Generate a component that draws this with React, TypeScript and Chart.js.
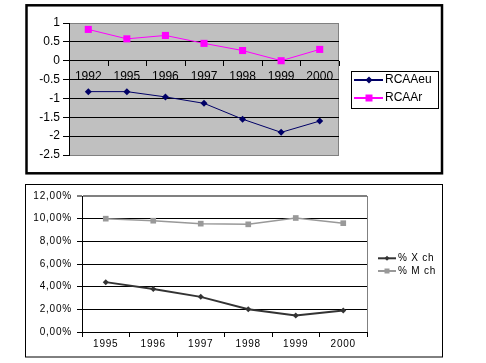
import { useEffect, useRef } from 'react';
import { Chart, registerables } from 'chart.js';

Chart.register(...registerables);

const FONT = 'Liberation Sans, Arial, sans-serif';

// Top chart data
const topYears = ['1992', '1995', '1996', '1997', '1998', '1999', '2000'];
const rcaaEu = [-0.82, -0.82, -0.96, -1.13, -1.55, -1.9, -1.6];
const rcaaR = [0.83, 0.58, 0.67, 0.46, 0.27, 0.0, 0.3];
const topTicks = [1, 0.5, 0, -0.5, -1, -1.5, -2, -2.5];

// Bottom chart data (percent)
const bottomYears = ['1995', '1996', '1997', '1998', '1999', '2000'];
const xCh = [4.4, 3.8, 3.1, 2.0, 1.45, 1.9];
const mCh = [10.0, 9.82, 9.56, 9.5, 10.06, 9.6];

const topPlugin = {
  id: 'topDeco',
  beforeDraw(chart: any) {
    const { ctx, chartArea: a } = chart;
    ctx.save();
    ctx.fillStyle = '#ffffff';
    ctx.fillRect(0, 0, chart.width, chart.height);
    ctx.fillStyle = '#c0c0c0';
    ctx.fillRect(a.left, a.top, a.right - a.left, a.bottom - a.top);
    ctx.strokeStyle = '#808080';
    ctx.lineWidth = 1;
    ctx.strokeRect(a.left + 0.5, a.top + 0.5, a.right - a.left - 1, a.bottom - a.top);
    ctx.restore();
  },
  beforeDatasetsDraw(chart: any) {
    const { ctx } = chart;
    const xs = chart.scales.x;
    const ys = chart.scales.y;
    const y0 = ys.getPixelForValue(0);
    const half = (xs.getPixelForValue(1) - xs.getPixelForValue(0)) / 2;
    ctx.save();
    ctx.strokeStyle = '#000';
    ctx.lineWidth = 1;
    ctx.beginPath();
    for (let i = 0; i < topYears.length; i++) {
      const bx = Math.round(xs.getPixelForValue(i) + half) + 0.5;
      ctx.moveTo(bx, Math.round(y0));
      ctx.lineTo(bx, Math.round(y0) + 5);
    }
    ctx.stroke();
    ctx.fillStyle = '#000';
    ctx.font = `12px ${FONT}`;
    ctx.textAlign = 'center';
    ctx.textBaseline = 'middle';
    topYears.forEach((lab, i) => {
      ctx.fillText(lab, xs.getPixelForValue(i), y0 + 16);
    });
    ctx.restore();
  },
  afterDraw(chart: any) {
    const { ctx } = chart;
    ctx.save();
    // outer frame
    ctx.strokeStyle = '#000';
    ctx.lineWidth = 2.5;
    ctx.strokeRect(26.5, 5.3, 415.5, 168);
    // legend
    ctx.fillStyle = '#fff';
    ctx.fillRect(351, 71, 87, 37);
    ctx.lineWidth = 1;
    ctx.strokeRect(351.5, 71.5, 87, 37);
    const items = chart.data.datasets;
    const ys = [80, 98];
    items.forEach((ds: any, i: number) => {
      const y = ys[i];
      ctx.strokeStyle = ds.borderColor;
      ctx.lineWidth = 2;
      ctx.beginPath();
      ctx.moveTo(354, y);
      ctx.lineTo(383, y);
      ctx.stroke();
      ctx.fillStyle = ds.backgroundColor;
      ctx.beginPath();
      if (ds.pointStyle === 'rect') {
        ctx.rect(369 - 3.5, y - 3.5, 7, 7);
      } else {
        ctx.moveTo(369 - 3.5, y);
        ctx.lineTo(369, y - 3.5);
        ctx.lineTo(369 + 3.5, y);
        ctx.lineTo(369, y + 3.5);
        ctx.closePath();
      }
      ctx.fill();
      ctx.fillStyle = '#000';
      ctx.font = `12px ${FONT}`;
      ctx.textAlign = 'left';
      ctx.textBaseline = 'middle';
      ctx.fillText(ds.label, 385, y);
    });
    ctx.restore();
  },
};

const bottomPlugin = {
  id: 'bottomDeco',
  beforeDraw(chart: any) {
    const { ctx } = chart;
    ctx.fillStyle = '#ffffff';
    ctx.fillRect(0, 0, chart.width, chart.height);
    (ctx as any).letterSpacing = '0.8px';
  },
  afterDraw(chart: any) {
    const { ctx, chartArea: a } = chart;
    ctx.save();
    ctx.strokeStyle = '#808080';
    ctx.lineWidth = 1;
    ctx.beginPath();
    ctx.moveTo(Math.round(a.right) + 0.5, a.top);
    ctx.lineTo(Math.round(a.right) + 0.5, a.bottom);
    ctx.stroke();
    // outer frame
    ctx.strokeStyle = '#000';
    ctx.strokeRect(25.5, 4.5, 417, 172.5);
    // legend
    const ys = [78.3, 91];
    chart.data.datasets.forEach((ds: any, i: number) => {
      const y = ys[i];
      ctx.strokeStyle = ds.borderColor;
      ctx.lineWidth = 2;
      ctx.beginPath();
      ctx.moveTo(378, y);
      ctx.lineTo(396, y);
      ctx.stroke();
      ctx.fillStyle = ds.backgroundColor;
      ctx.beginPath();
      if (ds.pointStyle === 'rect') {
        ctx.rect(387 - 2.5, y - 2.5, 5, 5);
      } else {
        ctx.moveTo(387 - 2.5, y);
        ctx.lineTo(387, y - 2.5);
        ctx.lineTo(387 + 2.5, y);
        ctx.lineTo(387, y + 2.5);
        ctx.closePath();
      }
      ctx.fill();
      ctx.fillStyle = '#000';
      ctx.font = `10px ${FONT}`;
      ctx.textAlign = 'left';
      ctx.textBaseline = 'middle';
      (ctx as any).letterSpacing = '0.8px';
      ctx.fillText(ds.label, 398, y);
    });
    ctx.restore();
  },
};

export default function App() {
  const topRef = useRef<HTMLCanvasElement>(null);
  const botRef = useRef<HTMLCanvasElement>(null);

  useEffect(() => {
    const top = new Chart(topRef.current as HTMLCanvasElement, {
      type: 'line',
      data: {
        labels: topYears,
        datasets: [
          {
            label: 'RCAAeu',
            data: rcaaEu,
            borderColor: '#000066',
            backgroundColor: '#000066',
            borderWidth: 1,
            pointStyle: 'rectRot',
            pointRadius: 3.5,
            pointBorderWidth: 0,
            tension: 0,
          },
          {
            label: 'RCAAr',
            data: rcaaR,
            borderColor: '#ff00ff',
            backgroundColor: '#ff00ff',
            borderWidth: 1,
            pointStyle: 'rect',
            pointRadius: 5,
            pointBorderWidth: 0,
            tension: 0,
          },
        ],
      },
      options: {
        responsive: false,
        animation: false,
        layout: { padding: { left: 0, top: 23, right: 147, bottom: 25 } },
        plugins: { legend: { display: false }, tooltip: { enabled: false } },
        scales: {
          x: { display: false, offset: true },
          y: {
            min: -2.5,
            max: 1,
            afterBuildTicks: (s: any) => {
              s.ticks = topTicks.map((v) => ({ value: v }));
            },
            afterFit: (s: any) => {
              s.width = 69;
            },
            ticks: {
              callback: (v: any) => String(v),
              color: '#000',
              font: { family: FONT, size: 12 },
              padding: 3,
            },
            grid: {
              color: (c: any) =>
                c.tick && (c.tick.value === 1 || c.tick.value === -2.5) ? 'rgba(0,0,0,0)' : '#000',
              tickColor: '#000',
              tickLength: 6,
              lineWidth: 1,
            },
            border: { color: '#000', width: 1 },
          },
        },
      } as any,
      plugins: [topPlugin],
    });

    const bot = new Chart(botRef.current as HTMLCanvasElement, {
      type: 'line',
      data: {
        labels: bottomYears,
        datasets: [
          {
            label: '% X ch',
            data: xCh,
            borderColor: '#333333',
            backgroundColor: '#333333',
            borderWidth: 2,
            pointStyle: 'rectRot',
            pointRadius: 3,
            pointBorderWidth: 0,
            tension: 0,
          },
          {
            label: '% M ch',
            data: mCh,
            borderColor: '#999999',
            backgroundColor: '#999999',
            borderWidth: 1.5,
            pointStyle: 'rect',
            pointRadius: 4,
            pointBorderWidth: 0,
            tension: 0,
          },
        ],
      },
      options: {
        responsive: false,
        animation: false,
        layout: { padding: { left: 0, top: 16, right: 119, bottom: 11 } },
        plugins: { legend: { display: false }, tooltip: { enabled: false } },
        scales: {
          x: {
            offset: true,
            afterFit: (s: any) => {
              s.height = 20;
            },
            grid: { drawOnChartArea: false, offset: true, tickLength: 5, tickColor: '#000' },
            border: { color: '#000', width: 1 },
            ticks: {
              color: '#000',
              font: { family: FONT, size: 10 },
              padding: 1,
              maxRotation: 0,
              autoSkip: false,
            },
          },
          y: {
            min: 0,
            max: 12,
            afterFit: (s: any) => {
              s.width = 82;
            },
            ticks: {
              stepSize: 2,
              callback: (v: any) => Number(v).toFixed(2).replace('.', ',') + '%',
              color: '#000',
              font: { family: FONT, size: 10 },
              padding: 5,
            },
            grid: {
              color: (c: any) => (c.tick && c.tick.value === 12 ? '#808080' : '#000'),
              lineWidth: (c: any) => (c.tick && c.tick.value === 12 ? 2 : 1),
              tickColor: '#000',
              tickWidth: 1,
              tickLength: 5,
            },
            border: { color: '#000', width: 1 },
          },
        },
      } as any,
      plugins: [bottomPlugin],
    });

    return () => {
      top.destroy();
      bot.destroy();
    };
  }, []);

  return (
    <div style={{ position: 'absolute', left: 0, top: 0, width: 486, height: 363, background: '#fff' }}>
      <canvas ref={topRef} width={486} height={180} style={{ position: 'absolute', left: 0, top: 0 }} />
      <canvas ref={botRef} width={486} height={183} style={{ position: 'absolute', left: 0, top: 180 }} />
    </div>
  );
}
